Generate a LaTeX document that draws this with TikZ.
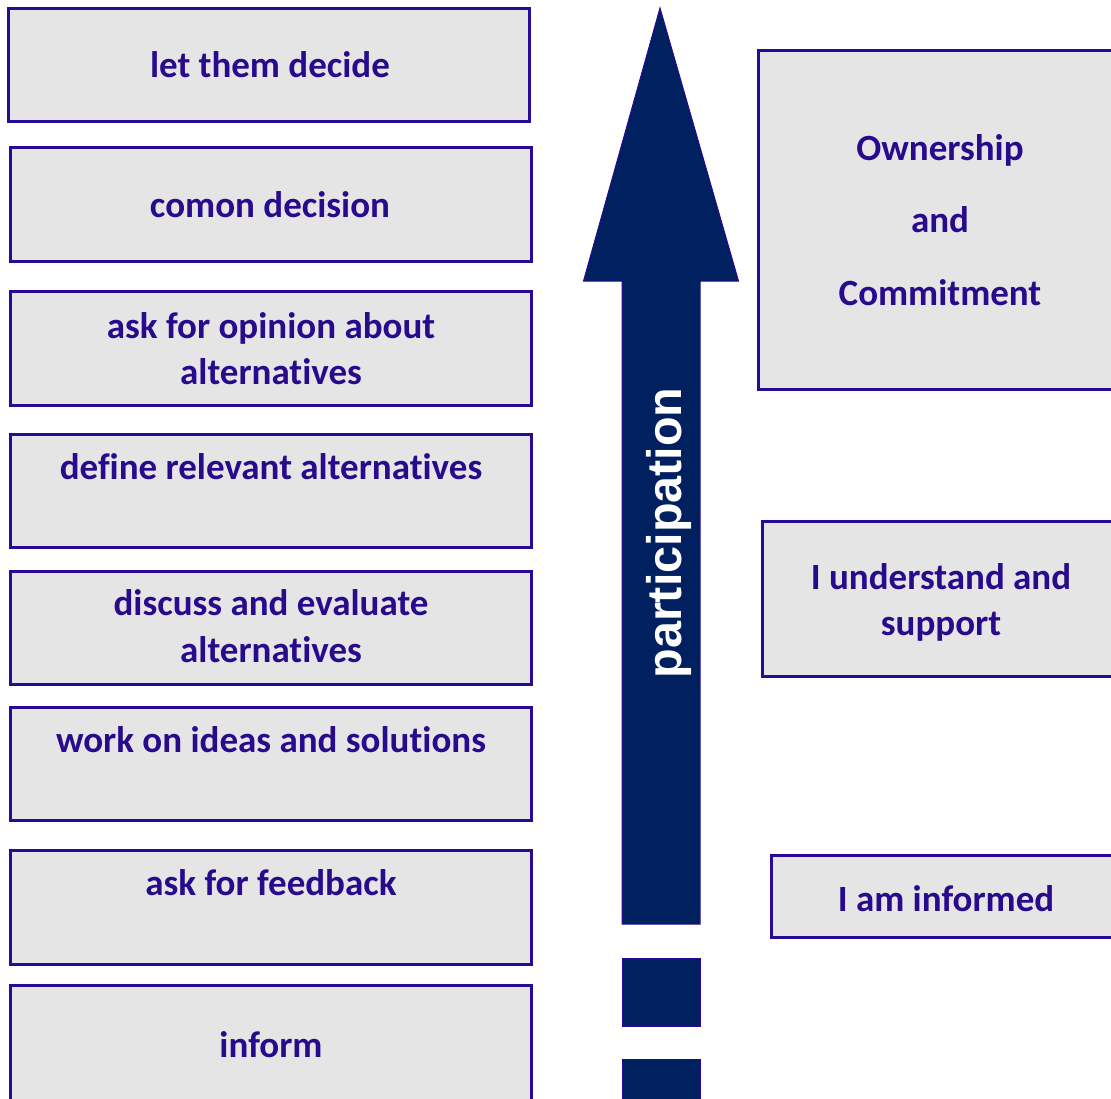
\documentclass[tikz,border=0pt]{standalone}
\usepackage{fontspec}
\setmainfont{Carlito}[Ligatures=NoCommon]
\newfontfamily\arialf{Liberation Sans}
\definecolor{txtc}{RGB}{40,10,140}
\definecolor{bordc}{RGB}{40,10,150}
\definecolor{arrc}{RGB}{0,32,96}
\definecolor{boxfill}{RGB}{229,229,229}
\begin{document}
\begin{tikzpicture}[x=1pt,y=-1pt,
  boxst/.style={draw=bordc,fill=boxfill,line width=3pt},
  lbl/.style={anchor=base,text=txtc,font=\fontsize{37}{44}\selectfont\bfseries,inner sep=0pt},
  arrst/.style={fill=arrc,draw=bordc,line width=1pt}]
\useasboundingbox (0,0) rectangle (1111,1098);
\clip (0,0) rectangle (1111,1098);
% left boxes
\path[boxst] (8.5,8.5) rectangle (529.5,121.5);
\path[boxst] (10.5,147.5) rectangle (531.5,261.5);
\path[boxst] (10.5,291.5) rectangle (531.5,405.5);
\path[boxst] (10.5,434.5) rectangle (531.5,547.5);
\path[boxst] (10.5,571.5) rectangle (531.5,684.5);
\path[boxst] (10.5,707.5) rectangle (531.5,820.5);
\path[boxst] (10.5,850.5) rectangle (531.5,964.5);
\path[boxst] (10.5,985.5) rectangle (531.5,1115);
% right boxes
\path[boxst] (758.5,50.5) rectangle (1120,389.5);
\path[boxst] (762.5,521.5) rectangle (1120,676.5);
\path[boxst] (771.5,855.5) rectangle (1120,937.5);
% arrow
\path[arrst] (660,8) -- (738.5,281) -- (700,281) -- (700,924) -- (622,924) -- (622,281) -- (583.5,281) -- cycle;
\path[arrst] (622,958) rectangle (700,1026);
\path[arrst] (622,1059) rectangle (700,1115);
\node[anchor=base,rotate=90,text=white,inner sep=0pt,font=\arialf\fontsize{48.5}{50}\selectfont\bfseries] (part) at (681,533) {participation};
% labels
\node[lbl] (t1) at (270,77) {let them decide};
\node[lbl] (t2) at (270,217) {comon decision};
\node[lbl] (t3a) at (271,338) {ask for opinion about};
\node[lbl] (t3b) at (271,384) {alternatives};
\node[lbl] (t4) at (271,479) {define relevant alternatives};
\node[lbl] (t5a) at (271,615) {discuss and evaluate};
\node[lbl] (t5b) at (271,662) {alternatives};
\node[lbl] (t6) at (271,752) {work on ideas and solutions};
\node[lbl] (t7) at (271,895) {ask for feedback};
\node[lbl] (t8) at (271,1057) {inform};
\node[lbl] (r1a) at (940,160) {Ownership};
\node[lbl] (r1b) at (940,232) {and};
\node[lbl] (r1c) at (940,305) {Commitment};
\node[lbl] (r2a) at (941,589) {I understand and};
\node[lbl] (r2b) at (941,635) {support};
\node[lbl] (r3) at (946,911) {I am informed};
\end{tikzpicture}
\end{document}
